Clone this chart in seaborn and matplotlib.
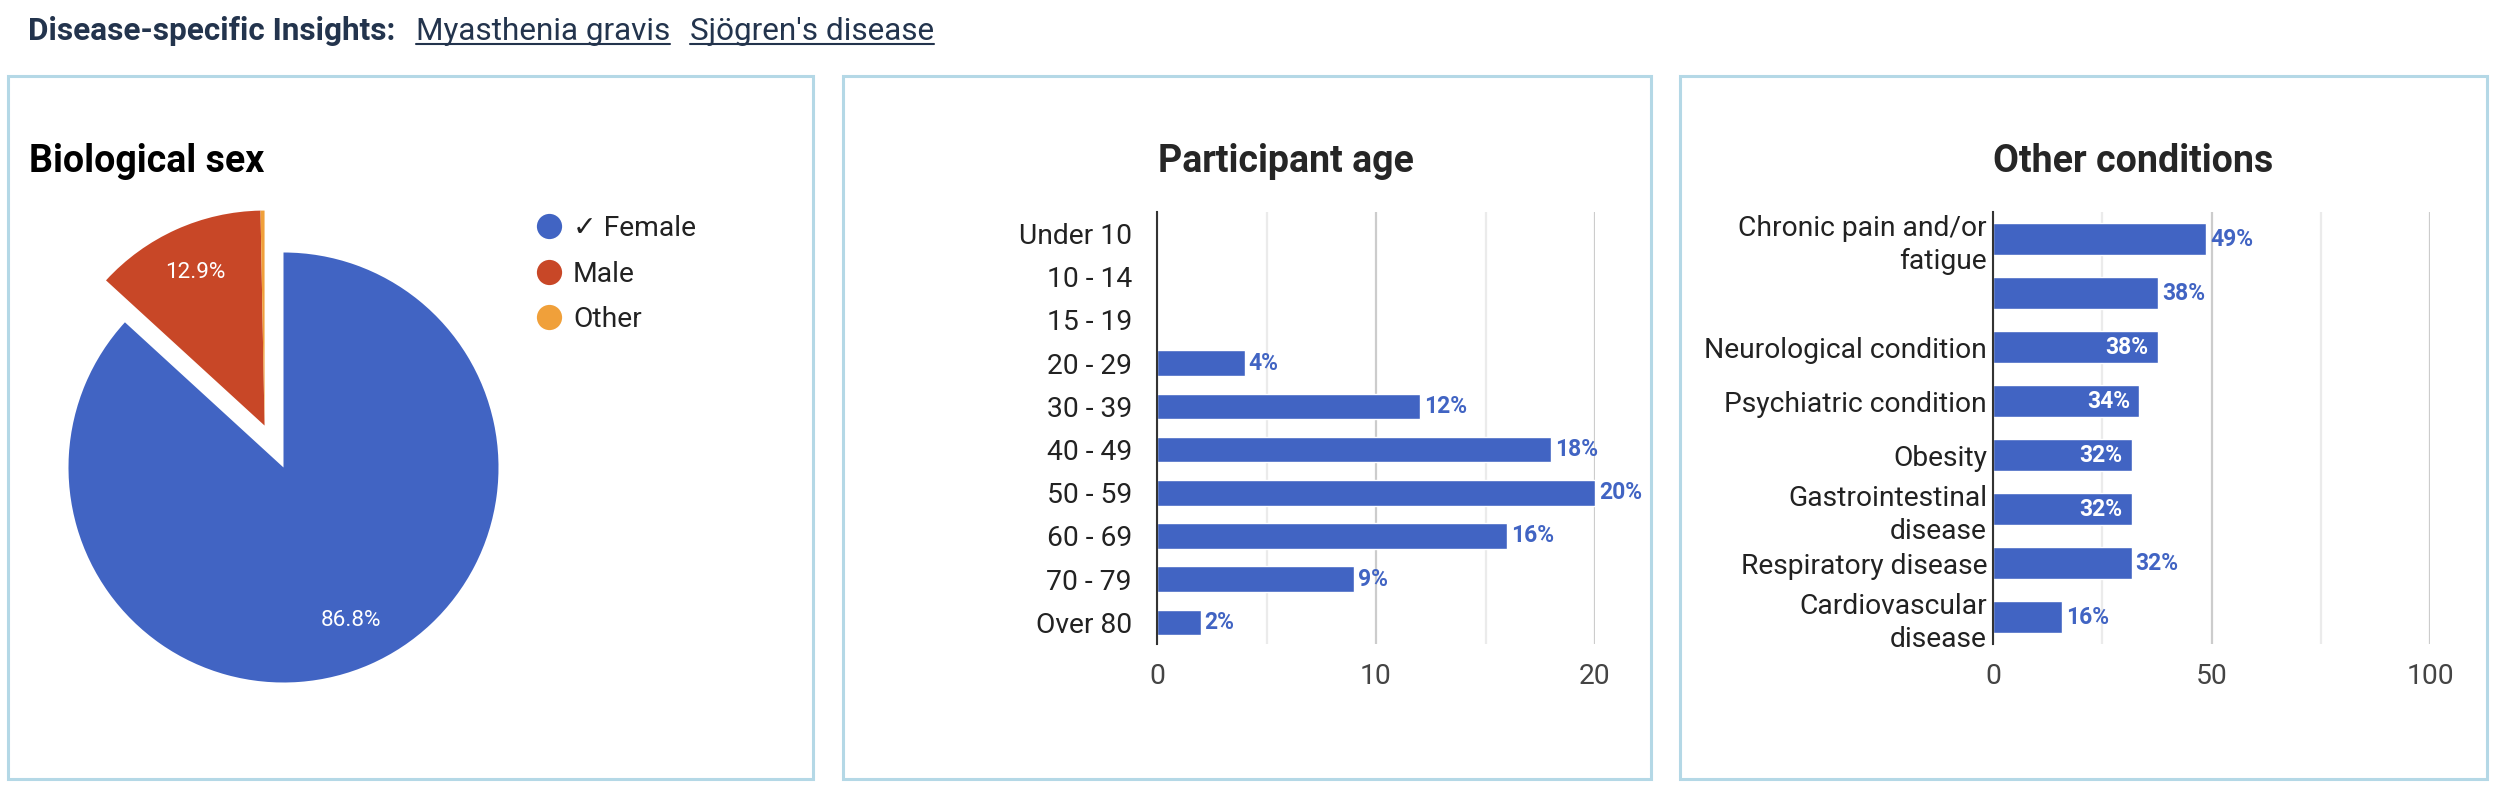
import matplotlib.pyplot as plt
import seaborn as sns
import pandas as pd
import numpy as np
from matplotlib.patches import Rectangle
from matplotlib.lines import Line2D

# data
sex_labels = ['✓ Female', 'Male', 'Other']
sex_pct = [86.8, 12.9, 0.3]
sex_colors = ['#4164C3', '#C84727', '#F0A03A']

age_groups = ['Under 10', '10 - 14', '15 - 19', '20 - 29', '30 - 39',
              '40 - 49', '50 - 59', '60 - 69', '70 - 79', 'Over 80']
age_pct = [0, 0, 0, 4, 12, 18, 20, 16, 9, 2]

conditions = ['Chronic pain and/or\nfatigue', '', 'Neurological condition',
              'Psychiatric condition', 'Obesity', 'Gastrointestinal\ndisease',
              'Respiratory disease', 'Cardiovascular\ndisease']
cond_pct = [48.7, 37.7, 37.7, 33.5, 31.7, 31.7, 31.7, 15.7]
cond_label_inside = [False, False, True, True, True, True, False, False]

BLUE = '#4164C3'
BORDER = '#B4D8E6'
NAVY = '#23344D'

sns.set_theme(style='white')
plt.rcParams['font.family'] = ['Roboto', 'DejaVu Sans']

W, H = 2494, 788
fig = plt.figure(figsize=(W / 100, H / 100), dpi=100)


def box(x0, y0, x1, y1):
    # pixel box (top-left origin) -> figure fraction
    return [x0 / W, 1 - y1 / H, (x1 - x0) / W, (y1 - y0) / H]


# overlay for header, borders and legend
over = fig.add_axes([0, 0, 1, 1], zorder=0)
over.set_xlim(0, W)
over.set_ylim(H, 0)
over.axis('off')

for x0, x1 in [(7.5, 813), (843, 1651), (1680, 2487)]:
    over.add_patch(Rectangle((x0, 76), x1 - x0, 703, fill=False,
                             edgecolor=BORDER, linewidth=2.2))

over.text(28, 40, 'Disease-specific Insights:', fontsize=22.7, fontweight='bold',
          color=NAVY, va='baseline')
links = []
for x, s in [(416, 'Myasthenia gravis'), (690, "Sjögren's disease")]:
    links.append(over.text(x, 40, s, fontsize=22.7, color=NAVY, va='baseline'))

# ---- pie ----
cx, cy, r = 283.5, 467.5, 215
half = 1.3 * r
ax1 = fig.add_axes(box(cx - half, cy - half, cx + half, cy + half), zorder=1)
wedges, _, autotexts = ax1.pie(
    sex_pct, colors=sex_colors, startangle=90, counterclock=False,
    explode=[0, 0.214, 0], pctdistance=0.78,
    autopct=lambda p: f'{p:.1f}%' if p > 1 else '',
    wedgeprops=dict(linewidth=0))
# the tiny "Other" slice moves out together with "Male"
wedges[2].set_center(wedges[1].center)
for t in autotexts:
    t.set_color('white')
    t.set_fontsize(16.2)
ax1.set_xlim(-1.3, 1.3)
ax1.set_ylim(-1.3, 1.3)

over.text(29, 172, 'Biological sex', fontsize=27, fontweight='bold',
          color='black', va='baseline')
for i, (lab, col) in enumerate(zip(sex_labels, sex_colors)):
    y = 226 + i * 45.5
    over.scatter([549], [y], s=330, color=col, linewidths=0)
    over.text(573, y + 10, lab, fontsize=20.3, color='#222222', va='baseline')


def style_bar_axis(ax, xmax, major, minor, ypad):
    ax.set_xlim(0, xmax)
    ax.set_xticks(major)
    ax.set_xticks(minor, minor=True)
    ax.grid(axis='x', which='major', color='#CCCCCC', linewidth=1.6)
    ax.grid(axis='x', which='minor', color='#EBEBEB', linewidth=1.6)
    ax.grid(axis='y', visible=False)
    ax.set_axisbelow(True)
    for s in ['top', 'right', 'bottom']:
        ax.spines[s].set_visible(False)
    ax.spines['left'].set_color('#333333')
    ax.spines['left'].set_linewidth(1.5)
    ax.set_xlabel('')
    ax.set_ylabel('')
    ax.tick_params(axis='x', which='both', length=0, pad=14, labelsize=20.3,
                   labelcolor='#444444')
    ax.tick_params(axis='y', length=0, pad=ypad, labelsize=20.3,
                   labelcolor='#222222')
    ax.set_facecolor('none')


# ---- age ----
ax2 = fig.add_axes(box(1157, 212, 1595, 644), zorder=1)
sns.barplot(x=age_pct, y=age_groups, orient='h', color=BLUE, saturation=1,
            width=0.595, ax=ax2)
style_bar_axis(ax2, 20, [0, 10, 20], [5, 15], 18)
for i, v in enumerate(age_pct):
    if v > 0:
        ax2.annotate(f'{v}%', (v, i), xytext=(2.8, 0), textcoords='offset points',
                     va='center', ha='left', fontsize=16.5, fontweight='bold',
                     color=BLUE)
fig.text(1286 / W, 1 - 172 / H, 'Participant age', fontsize=27, fontweight='bold',
         ha='center', va='baseline')

# ---- other conditions ----
ax3 = fig.add_axes(box(1993, 212, 2430, 644), zorder=1)
sns.barplot(x=cond_pct, y=conditions, orient='h', color=BLUE, saturation=1,
            width=0.585, ax=ax3)
style_bar_axis(ax3, 100, [0, 50, 100], [25, 75], 4.3)
for t in ax3.get_yticklabels():
    t.set_linespacing(1.3)
for i, (v, inside) in enumerate(zip(cond_pct, cond_label_inside)):
    if inside:
        ax3.annotate(f'{round(v)}%', (v, i), xytext=(-6.5, 0),
                     textcoords='offset points', va='center', ha='right',
                     fontsize=16.5, fontweight='bold', color='white')
    else:
        ax3.annotate(f'{round(v)}%', (v, i), xytext=(2.9, 0),
                     textcoords='offset points', va='center', ha='left',
                     fontsize=16.5, fontweight='bold', color=BLUE)
fig.text(2133 / W, 1 - 172 / H, 'Other conditions', fontsize=27, fontweight='bold',
         ha='center', va='baseline')

# underline the header links
fig.canvas.draw()
rend = fig.canvas.get_renderer()
for t in links:
    bb = t.get_window_extent(rend)
    over.add_line(Line2D([bb.x0, bb.x1], [44, 44], color=NAVY, linewidth=1.5))

fig.savefig('out.png', dpi=100)
